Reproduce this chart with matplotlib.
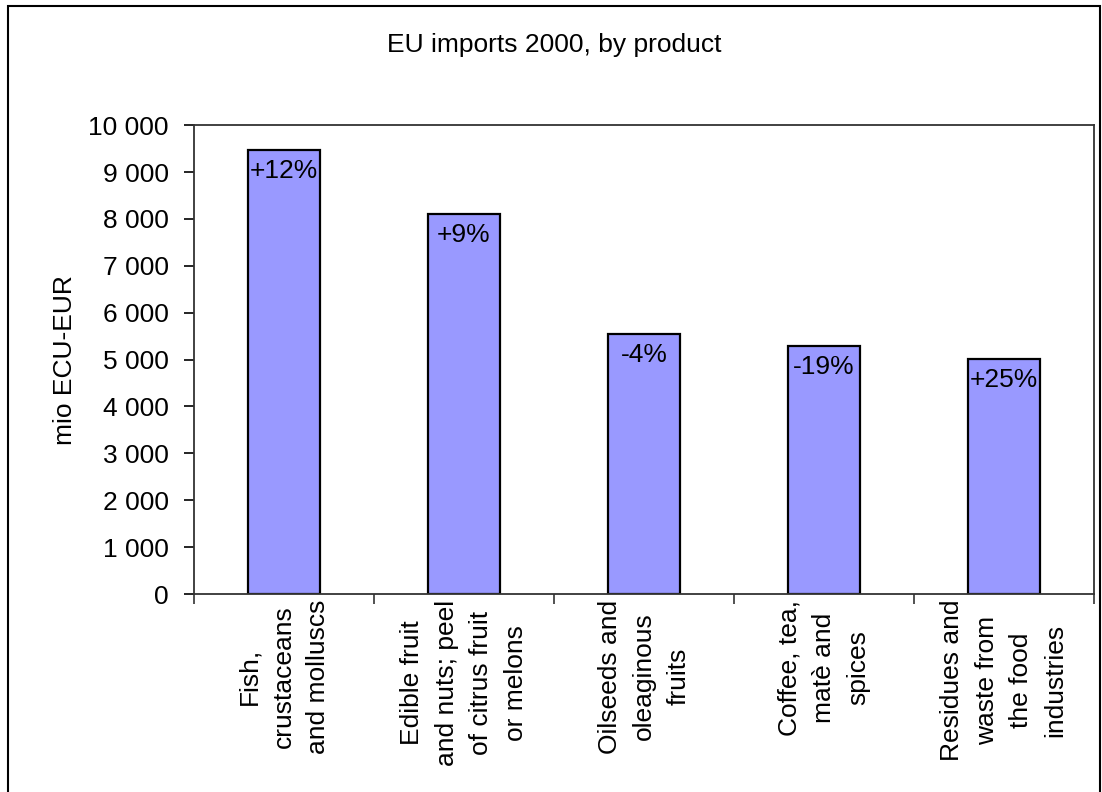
import numpy as np
import matplotlib
matplotlib.use('Agg')
import matplotlib.pyplot as plt
from matplotlib.patches import Rectangle

#----------------------------Data----------------------------------------

products = ['Fish,\ncrustaceans\nand molluscs',
            'Edible fruit\nand nuts; peel\nof citrus fruit\nor melons',
            'Oilseeds and\noleaginous\nfruits',
            'Coffee, tea,\nmatè and\nspices',
            'Residues and\nwaste from\nthe food\nindustries']
imports = [9460, 8100, 5540, 5290, 5010]
changes = ['+12%', '+9%', '-4%', '-19%', '+25%']
yticks = [0, 1000, 2000, 3000, 4000, 5000, 6000, 7000, 8000, 9000, 10000]

#-----------------------------------------------------------------------

plt.rcParams['font.family'] = ['Liberation Sans', 'DejaVu Sans']
FS = 19

fig = plt.figure(figsize=(11.02, 7.92), dpi=100)
ax = fig.add_axes([0.176, 0.25, 0.8167, 0.592])

x = np.arange(len(products))
ax.bar(x, imports, width=0.4, color='#9999FF', edgecolor='black', linewidth=1.6, zorder=2)

# percentage labels just inside bar tops
for xi, v, t in zip(x, imports, changes):
    ax.annotate(t, (xi, v), xytext=(0, -15), textcoords='offset points',
                ha='center', va='center', fontsize=FS)

ax.set_xlim(-0.5, len(products) - 0.5)
ax.set_ylim(0, 10000)
ax.set_yticks(yticks)
ax.set_yticklabels(['{:,}'.format(v).replace(',', ' ') for v in yticks], fontsize=FS)

# ticks at category boundaries, labels at centres
ax.set_xticks(np.arange(len(products) + 1) - 0.5)
ax.set_xticklabels([])
ax.set_xticks(x, minor=True)
ax.set_xticklabels(products, minor=True, rotation=90, ha='center', va='top',
                   multialignment='center', fontsize=FS, linespacing=1.55)
ax.tick_params(axis='x', which='minor', length=0, pad=4)
ax.tick_params(axis='x', which='major', length=7, width=1.2, direction='out', color='#333333')
ax.tick_params(axis='y', length=7, width=1.2, direction='out', pad=11)

for s in ax.spines.values():
    s.set_linewidth(1.3)
    s.set_color('#333333')

ax.set_ylabel('mio ECU-EUR', fontsize=FS, labelpad=8)
fig.text(0.503, 0.943, 'EU imports 2000, by product', ha='center', va='center', fontsize=FS)

# outer chart border
fig.patches.append(Rectangle((8 / 1102, -0.01), 1092 / 1102, 1 - 6 / 792 + 0.01,
                             transform=fig.transFigure, fill=False,
                             edgecolor='black', linewidth=1.5))

fig.savefig('out.png', dpi=100)
